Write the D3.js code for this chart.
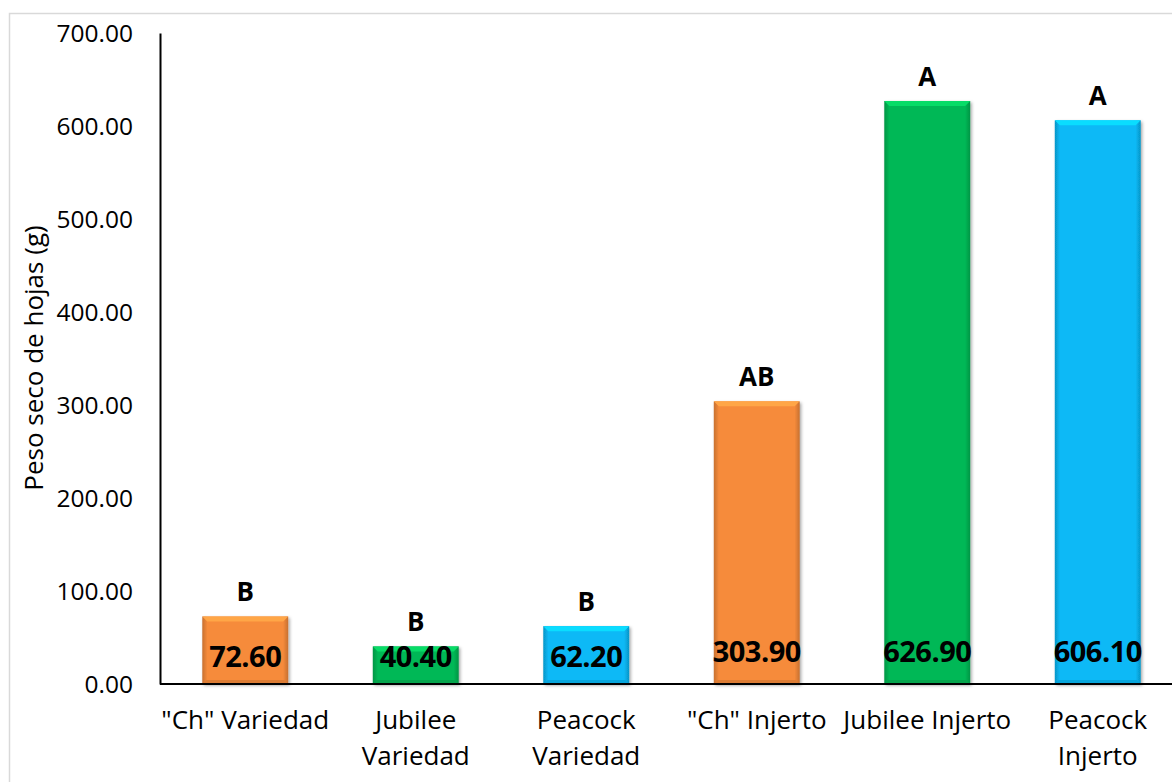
<!DOCTYPE html>
<html><head><meta charset="utf-8">
<script src="https://cdn.jsdelivr.net/npm/d3@7"></script>
<style>html,body{margin:0;padding:0;background:#fff;overflow:hidden}</style>
</head><body>
<svg id="c" width="1172" height="782"></svg>
<script>
const categories = ['"Ch" Variedad','Jubilee Variedad','Peacock Variedad','"Ch" Injerto','Jubilee Injerto','Peacock Injerto'];
const categoryLines = [['"Ch" Variedad'],['Jubilee','Variedad'],['Peacock','Variedad'],['"Ch" Injerto'],['Jubilee Injerto'],['Peacock','Injerto']];
const values = [72.60, 40.40, 62.20, 303.90, 626.90, 606.10];
const letters = ['B','B','B','AB','A','A'];
const colors = ['#F68B3B','#06B856','#08B9F6','#F68B3B','#06B856','#08B9F6'];
const yTicks = [0,100,200,300,400,500,600,700];
const yTitle = 'Peso seco de hojas (g)';

const svg = d3.select('#c');
const font = "'Open Sans', sans-serif";

// outer chart border
svg.append('rect').attr('x',9.5).attr('y',13.5).attr('width',1200).attr('height',800)
  .attr('fill','none').attr('stroke','#d9d9d9').attr('stroke-width',1.5);

const x = d3.scaleBand().domain(categories).range([160,1183]).paddingInner(0.496).paddingOuter(0.248);
const y = d3.scaleLinear().domain([0,700]).range([684,33]);

const defs = svg.append('defs');
const f = defs.append('filter').attr('id','sh').attr('x','-20%').attr('y','-20%').attr('width','140%').attr('height','140%');
f.append('feDropShadow').attr('dx',1.5).attr('dy',1.5).attr('stdDeviation',1.5).attr('flood-color','#000').attr('flood-opacity',0.35);

colors.forEach((c,i)=>{
  const g = defs.append('linearGradient').attr('id','g'+i).attr('x1','0').attr('x2','1').attr('y1','0').attr('y2','0');
  const dk = d3.color(c).darker(0.6).formatHex();
  g.append('stop').attr('offset','0').attr('stop-color',dk);
  g.append('stop').attr('offset','0.06').attr('stop-color',c);
  g.append('stop').attr('offset','0.94').attr('stop-color',c);
  g.append('stop').attr('offset','1').attr('stop-color',dk);
});

const bars = svg.append('g').selectAll('g').data(values).join('g');
bars.append('rect')
  .attr('x',(d,i)=>x(categories[i])).attr('y',d=>y(d))
  .attr('width',x.bandwidth()).attr('height',d=>y(0)-y(d))
  .attr('fill',(d,i)=>`url(#g${i})`).attr('filter','url(#sh)');
bars.append('path')
  .attr('d',(d,i)=>{
    const x0=x(categories[i]), x1=x0+x.bandwidth(), t=y(d), b=5;
    return `M${x0},${t}L${x1},${t}L${x1-b},${t+b}L${x0+b},${t+b}Z`;
  })
  .attr('fill',(d,i)=>d3.color(colors[i]).brighter(0.5).formatHex());
bars.append('path')
  .attr('d',(d,i)=>{
    const x0=x(categories[i]), x1=x0+x.bandwidth(), bt=y(0), b=4;
    return `M${x0},${bt}L${x1},${bt}L${x1-b},${bt-b}L${x0+b},${bt-b}Z`;
  })
  .attr('fill',(d,i)=>d3.color(colors[i]).darker(0.3).formatHex());

// value labels (inside base)
svg.append('g').selectAll('text').data(values).join('text')
  .attr('x',(d,i)=>x(categories[i])+x.bandwidth()/2).attr('y',d=>y(0)-(d<150?17:22))
  .attr('text-anchor','middle').attr('font-family',font).attr('font-weight','bold')
  .attr('font-size',29).attr('letter-spacing',-0.5).attr('fill','#000').text(d=>d.toFixed(2));

// letters
svg.append('g').selectAll('text').data(values).join('text')
  .attr('x',(d,i)=>x(categories[i])+x.bandwidth()/2).attr('y',d=>y(d)-15)
  .attr('text-anchor','middle').attr('font-family',font).attr('font-weight','bold')
  .attr('font-size',26).attr('fill','#000').text((d,i)=>letters[i]);

// y axis
const ya = svg.append('g').attr('transform','translate(160,0)')
  .call(d3.axisLeft(y).tickValues(yTicks).tickFormat(d3.format('.2f')).tickSize(0).tickPadding(27));
ya.select('.domain').attr('stroke','#000').attr('stroke-width',2);
ya.selectAll('text').attr('font-family',font).attr('font-size',24.5).attr('fill','#000').attr('dy','0.35em');

// x axis
const xa = svg.append('g').attr('transform','translate(0,684)')
  .call(d3.axisBottom(x).tickSize(0).tickFormat(''));
xa.select('.domain').attr('d','M160,0H1183').attr('stroke','#000').attr('stroke-width',2);
xa.selectAll('.tick').each(function(d,i){
  const t = d3.select(this).append('text').attr('text-anchor','middle').attr('font-family',font)
    .attr('font-size',26).attr('fill','#000');
  categoryLines[i].forEach((ln,j)=>t.append('tspan').attr('x',0).attr('y',45+j*36).text(ln));
});

// y title
svg.append('text').attr('transform','translate(43,358) rotate(-90)').attr('text-anchor','middle')
  .attr('font-family',font).attr('font-size',26).attr('fill','#000').text(yTitle);
</script>
</body></html>
